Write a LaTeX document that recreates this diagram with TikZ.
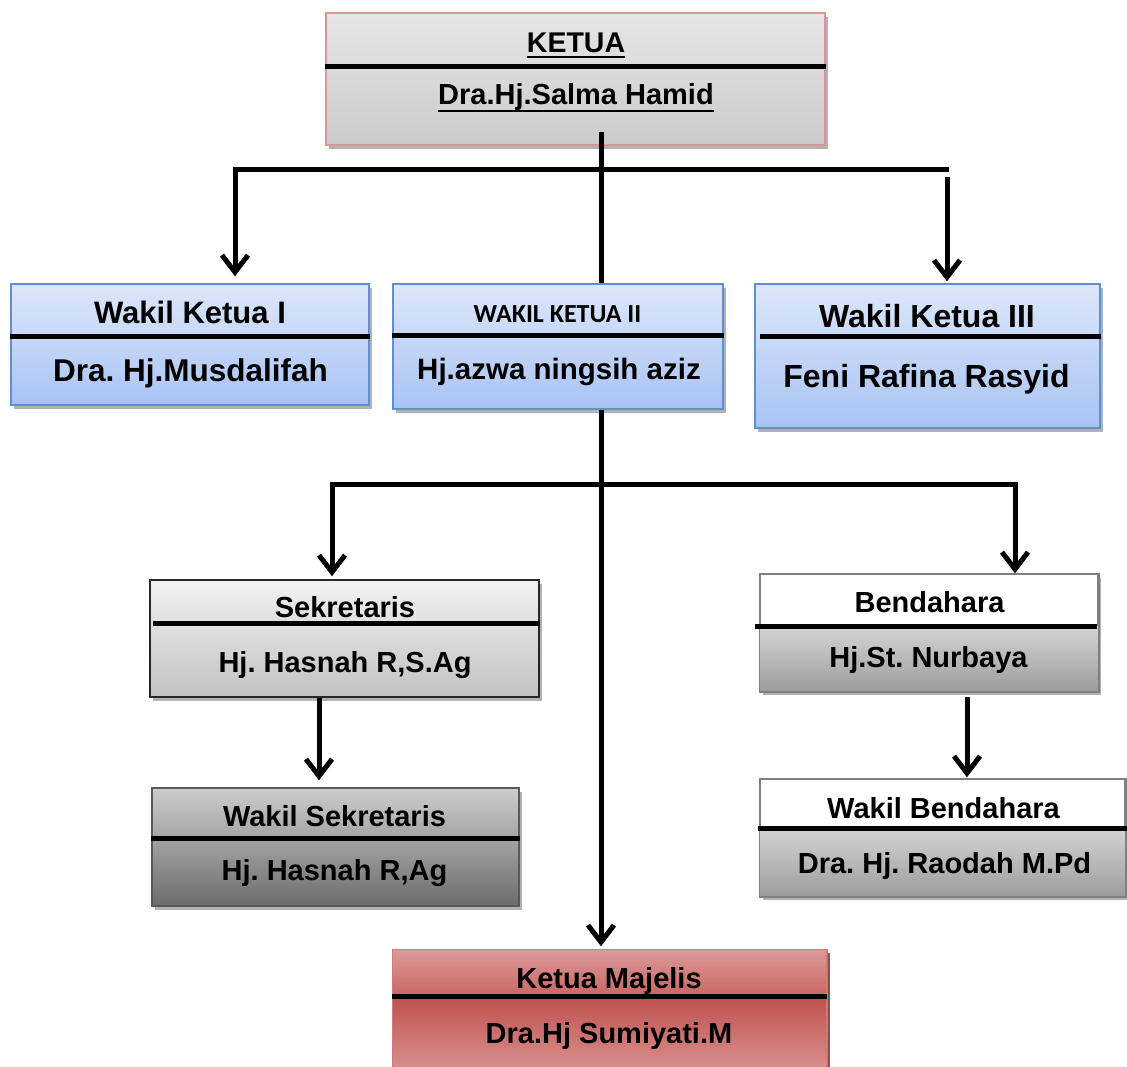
\documentclass[tikz,border=0pt]{standalone}
\usepackage{fontspec}
\setmainfont{Liberation Sans}
\newfontfamily\calib{Carlito}
\usetikzlibrary{arrows.meta,shadows}
\newcommand{\fsz}[1]{\fontsize{#1}{#1}\selectfont}
\definecolor{pinkb}{HTML}{D99694}
\definecolor{kg1}{HTML}{E6E6E6}
\definecolor{kg2}{HTML}{CBCBCB}
\definecolor{bl1}{HTML}{DDE7FB}
\definecolor{bl2}{HTML}{A8C3F4}
\definecolor{blb}{HTML}{5F8FD3}
\definecolor{sg1}{HTML}{F2F2F2}
\definecolor{sg2}{HTML}{C2C2C2}
\definecolor{wg1}{HTML}{CDCDCD}
\definecolor{wg2}{HTML}{B0B0B0}
\definecolor{wg3}{HTML}{6C6C6C}
\definecolor{bgray}{HTML}{7F7F7F}
\definecolor{bg1}{HTML}{D4D4D4}
\definecolor{bg2}{HTML}{9C9C9C}
\definecolor{rd1}{HTML}{DC9A98}
\definecolor{rd2}{HTML}{C96664}
\definecolor{rd3}{HTML}{C0504D}
\definecolor{rd4}{HTML}{D99694}
\definecolor{rdb}{HTML}{D07A78}
\tikzset{
  box/.style={rectangle, inner sep=0pt, line width=1.5pt,
    drop shadow={shadow xshift=3pt,shadow yshift=-4pt,opacity=0.3,fill=black}},
  ttl/.style={anchor=base, inner sep=0pt, font=\bfseries\fsz{29}},
  divl/.style={line width=5pt},
  conn/.style={line width=5pt, line cap=rect},
  arr/.style={conn, -{Straight Barb[length=17pt,width=26pt,line width=5pt]}},
  uline/.style={line width=2.8pt},
}
\begin{document}
\frenchspacing
\begin{tikzpicture}[x=1pt,y=-1pt]
\useasboundingbox (0,0) rectangle (1127,1066);

% ---------- KETUA ----------
\node[box, draw=pinkb, line width=2pt, top color=kg1, bottom color=kg2,
      minimum width=499pt, minimum height=132pt] (ketua) at (575.5,79) {};
\draw[divl] (ketua.west |- 0,66) -- (ketua.east |- 0,66);
\node[ttl, font=\bfseries\fsz{28.5}] (t0) at (576,52) {KETUA};
\draw[uline] ([yshift=-5pt]t0.base west) -- ([yshift=-5pt]t0.base east);
\node[ttl, font=\bfseries\fsz{29}] (n0) at (576,104) {Dra.Hj.Salma Hamid};
\draw[uline] ([yshift=-7pt]n0.base west) -- ([yshift=-7pt]n0.base east);

% ---------- Wakil Ketua I ----------
\node[box, draw=blb, top color=bl1, bottom color=bl2,
      minimum width=358pt, minimum height=121pt] (wk1) at (190,344.5) {};
\draw[divl] (wk1.west |- 0,336) -- (wk1.east |- 0,336);
\node[ttl, font=\bfseries\fsz{31}] (t1) at (190,323) {Wakil Ketua I};
\node[ttl, font=\bfseries\fsz{31.5}] (n1) at (190.5,381) {Dra. Hj.Musdalifah};

% ---------- Wakil Ketua II ----------
\node[box, draw=blb, top color=bl1, bottom color=bl2,
      minimum width=330pt, minimum height=125pt] (wk2) at (558,346.5) {};
\draw[divl] (wk2.west |- 0,335.5) -- (wk2.east |- 0,335.5);
\node[ttl, font=\calib\bfseries\fsz{26}] (t2) at (557.5,322) {WAKIL KETUA II};
\node[ttl, font=\bfseries\fsz{29.5}] (n2) at (559,379) {Hj.azwa ningsih aziz};

% ---------- Wakil Ketua III ----------
\node[box, draw=blb, top color=bl1, bottom color=bl2,
      minimum width=345pt, minimum height=144pt] (wk3) at (927.5,356) {};
\draw[divl] (760,336) -- (wk3.east |- 0,336);
\node[ttl, font=\bfseries\fsz{32}] (t3) at (927,327) {Wakil Ketua III};
\node[ttl, font=\bfseries\fsz{32}] (n3) at (926.5,387) {Feni Rafina Rasyid};

% ---------- Sekretaris ----------
\node[box, draw=black!85, top color=sg1, bottom color=sg2,
      minimum width=389pt, minimum height=117pt] (sek) at (344.5,638.5) {};
\draw[divl] (153,623) -- (540,623);
\node[ttl] (t4) at (345,617) {Sekretaris};
\node[ttl] (n4) at (345,672) {Hj. Hasnah R,S.Ag};

% ---------- Wakil Sekretaris ----------
\node[box, draw=black!65, top color=wg1, middle color=wg2, bottom color=wg3,
      minimum width=367pt, minimum height=118pt] (wsek) at (335.5,847) {};
\draw[divl] (wsek.west |- 0,838) -- (wsek.east |- 0,838);
\node[ttl] (t5) at (334.5,826) {Wakil Sekretaris};
\node[ttl] (n5) at (334.5,880) {Hj. Hasnah R,Ag};

% ---------- Bendahara ----------
\node[box, draw=bgray, fill=white,
      minimum width=338pt, minimum height=117pt] (bend) at (929,632.5) {};
\shade[top color=bg1, bottom color=bg2] (bend.west |- 0,626) rectangle (bend.south east);
\draw[line width=1.5pt, draw=bgray] (bend.south west) rectangle (bend.north east);
\draw[divl] (755,626) -- (1097,626);
\node[ttl] (t6) at (929.5,612) {Bendahara};
\node[ttl] (n6) at (928.5,667) {Hj.St. Nurbaya};

% ---------- Wakil Bendahara ----------
\node[box, draw=bgray, fill=white,
      minimum width=365pt, minimum height=117pt] (wbend) at (942.5,837.5) {};
\shade[top color=bg1, bottom color=bg2] (wbend.west |- 0,828) rectangle (wbend.south east);
\draw[line width=1.5pt, draw=bgray] (wbend.south west) rectangle (wbend.north east);
\draw[divl] (758,828.5) -- (1127,828.5);
\node[ttl] (t7) at (943.5,818) {Wakil Bendahara};
\node[ttl] (n7) at (944.5,873) {Dra. Hj. Raodah M.Pd};

% ---------- Ketua Majelis ----------
\node[box, draw=rdb, fill=rd3,
      drop shadow={shadow xshift=4pt,shadow yshift=-3pt,opacity=0.8,fill=rd3!60!black},
      minimum width=433pt, minimum height=125pt] (km) at (609.5,1012.5) {};
\shade[top color=rd1, bottom color=rd2] (km.north west) rectangle (km.east |- 0,996.5);
\shade[top color=rd3, bottom color=rd4] (km.west |- 0,996.5) rectangle (km.south east);
\draw[line width=1.5pt, draw=rdb] (km.south west) rectangle (km.north east);
\draw[divl] (km.west |- 0,996.5) -- (km.east |- 0,996.5);
\node[ttl] (t8) at (609,988) {Ketua Majelis};
\node[ttl] (n8) at (609,1043) {Dra.Hj Sumiyati.M};

% ---------- connectors ----------
\coordinate (k0) at (601,132);
\coordinate (bl) at (235,169);
\coordinate (br) at (946,169);
\coordinate (brs) at (947,177);
\draw[conn, line cap=butt] (k0) -- (k0 |- wk2.north);
\draw[arr, shorten >=7pt] (br) -- (bl) -- (bl |- wk1.north);
\draw[arr, line cap=butt, shorten >=2pt] (brs) -- (brs |- wk3.north);

\coordinate (m0) at (k0 |- wk2.south);
\coordinate (ml) at (332,484);
\coordinate (mr) at (1015,484);
\draw[arr, line cap=butt, shorten >=3pt] (m0) -- (m0 |- km.north);
\draw[arr, shorten >=3pt] (mr) -- (ml) -- (ml |- sek.north);
\draw[arr] (mr) -- (mr |- bend.north);

\coordinate (s0) at (319,698);
\draw[arr, line cap=butt, shorten >=7pt] (s0) -- (s0 |- wsek.north);
\coordinate (b0) at (967,697);
\draw[arr, line cap=butt, shorten >=1pt] (b0) -- (b0 |- wbend.north);
\end{tikzpicture}
\end{document}
